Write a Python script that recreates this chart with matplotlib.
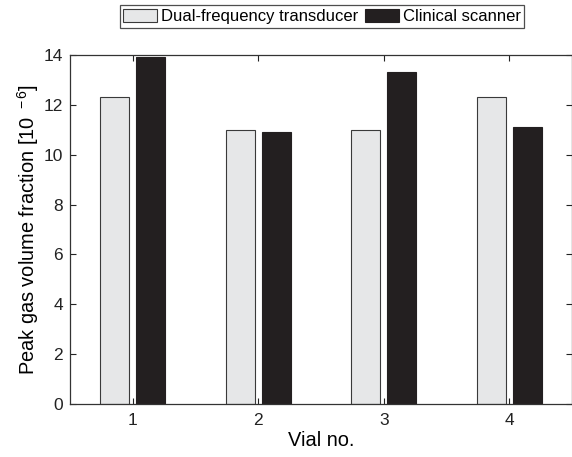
import matplotlib
matplotlib.use("Agg")
import matplotlib.pyplot as plt
import numpy as np

plt.rcParams['font.family'] = ['Liberation Sans', 'DejaVu Sans']
plt.rcParams['mathtext.fontset'] = 'custom'
plt.rcParams['mathtext.rm'] = 'Liberation Sans'
plt.rcParams['mathtext.it'] = 'Liberation Sans:italic'
plt.rcParams['mathtext.bf'] = 'Liberation Sans:bold'
plt.rcParams['axes.unicode_minus'] = False

vials = [1, 2, 3, 4]
dual_freq = [12.3, 11.0, 11.0, 12.3]
clinical = [13.9, 10.9, 13.3, 11.1]
series_labels = ["Dual-frequency transducer", "Clinical scanner"]
yticks = [0, 2, 4, 6, 8, 10, 12, 14]

fig = plt.figure(figsize=(5.72, 4.57), dpi=100)
ax = fig.add_axes([70/572, 1 - 404/457, 502/572, 349/457])

x = np.array(vials, dtype=float)
w = 0.23
off = 0.143
b1 = ax.bar(x - off, dual_freq, width=w, color="#e6e7e8", edgecolor="#3a3a3a",
            linewidth=0.8, label=series_labels[0])
b2 = ax.bar(x + off, clinical, width=w, color="#231f20", edgecolor="#231f20",
            linewidth=0.8, label=series_labels[1])

ax.set_xlim(0.5, 4.5)
ax.set_ylim(0, 14)
ax.set_xticks(vials)
ax.set_yticks(yticks)
ax.tick_params(direction="in", top=True, right=True, length=4, width=0.8,
               labelsize=12.5, colors="#222222")
ax.tick_params(axis="x", pad=6.5)
ax.tick_params(axis="y", pad=5)
for s in ax.spines.values():
    s.set_linewidth(0.9)
    s.set_color("#333333")

ax.set_xlabel("Vial no.", fontsize=14.4, labelpad=2)
ax.set_ylabel("Peak gas volume fraction [10 $^{\\rm -6}$]", fontsize=14.4, labelpad=2)

leg = fig.legend(handles=[b1, b2], labels=series_labels, loc="center",
                 bbox_to_anchor=(322/572, 1 - 16.5/457), ncol=2, fontsize=12,
                 frameon=True, fancybox=False, edgecolor="#222222",
                 handlelength=2.04, handleheight=0.88, handletextpad=0.24,
                 columnspacing=0.35, borderpad=0.2, borderaxespad=0)
leg.get_frame().set_linewidth(0.9)

fig.savefig("out.png", dpi=100)
